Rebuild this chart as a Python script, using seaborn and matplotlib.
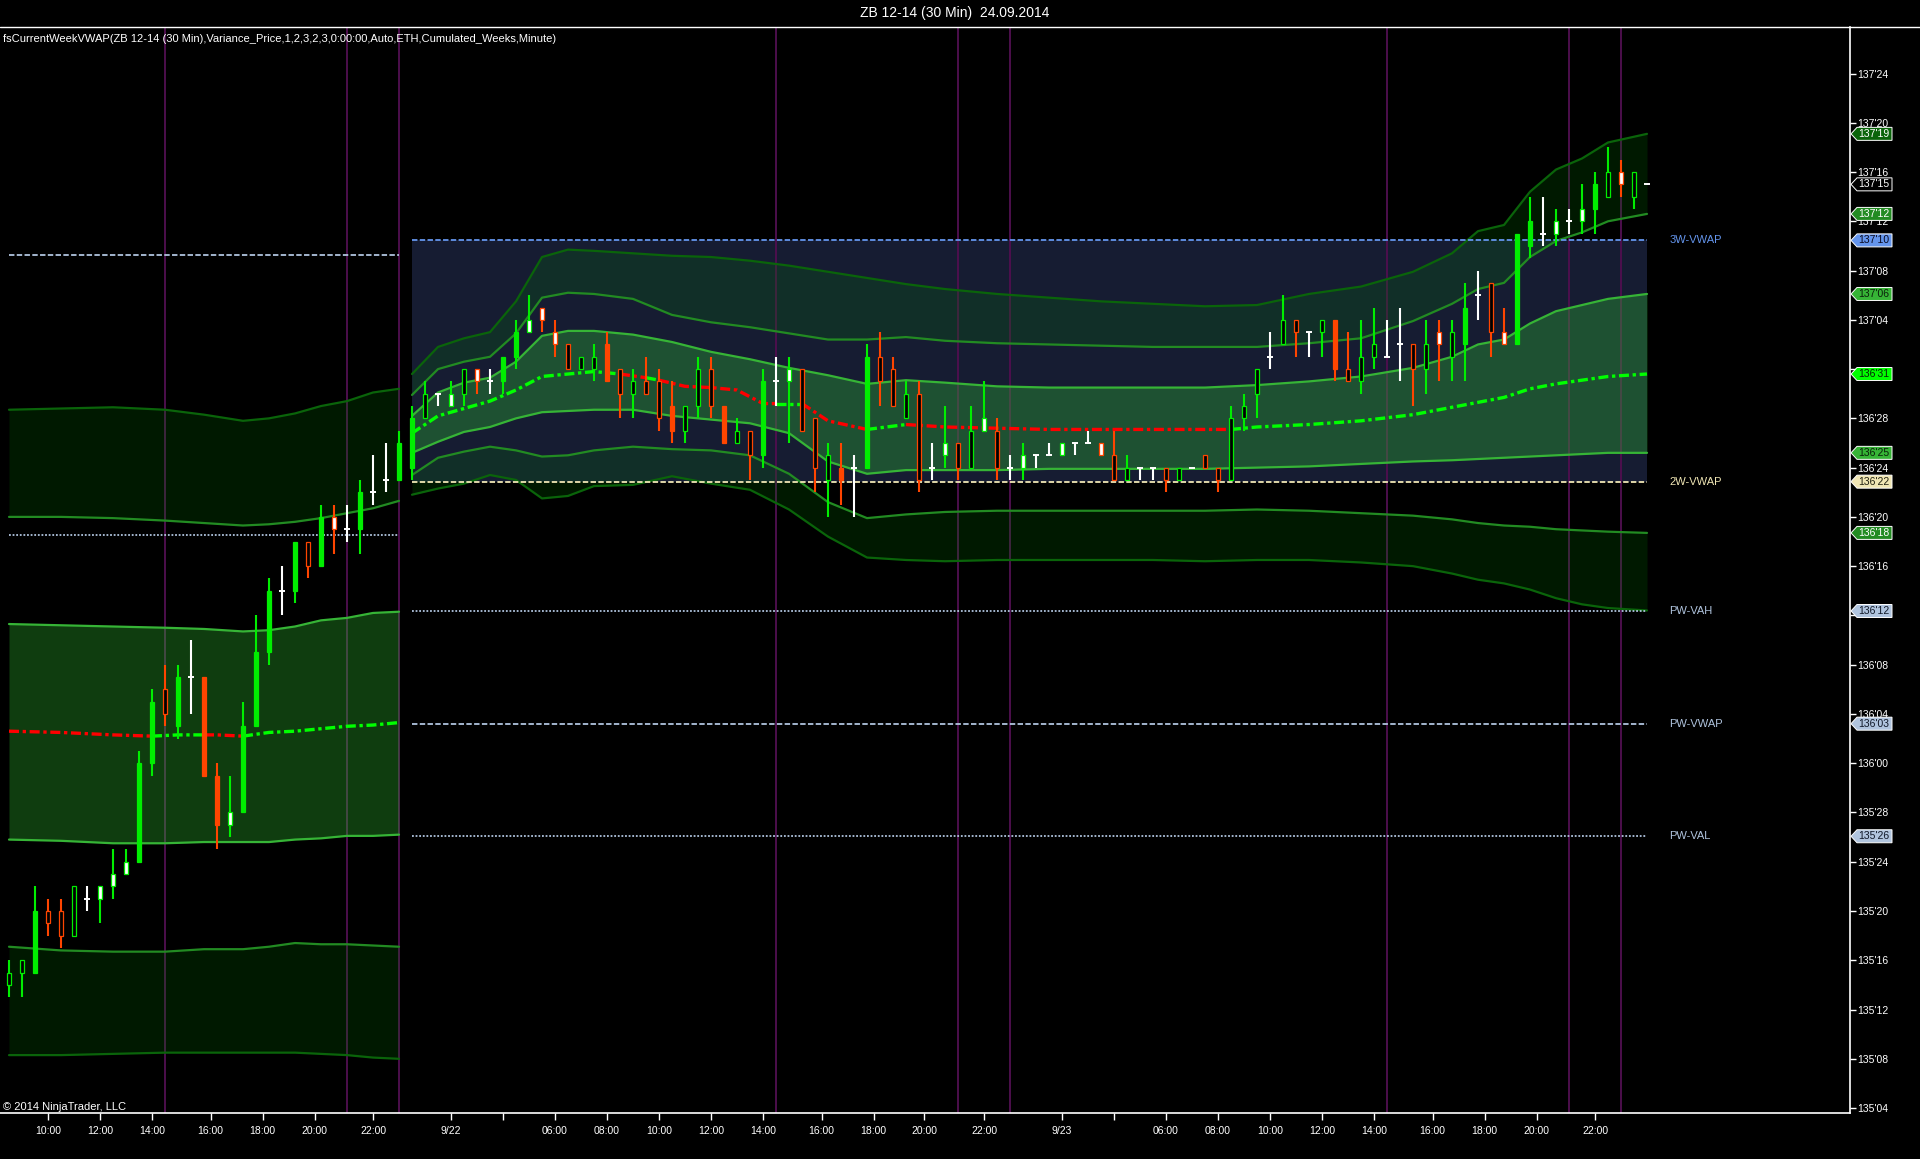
import numpy as np
import seaborn as sns
from matplotlib import pyplot as plt
from matplotlib.patches import Polygon
from matplotlib.lines import Line2D
from matplotlib.ticker import FuncFormatter
import matplotlib.transforms as mtransforms

TITLE = "ZB 12-14 (30 Min)  24.09.2014"
INDICATOR = "fsCurrentWeekVWAP(ZB 12-14 (30 Min),Variance_Price,1,2,3,2,3,0:00:00,Auto,ETH,Cumulated_Weeks,Minute)"
COPYRIGHT = "\u00a9 2014 NinjaTrader, LLC"

# all prices are in 32nds above 135'00, bars are 30 min
opens = [14, 15, 15, 20, 20, 18, 21, 21, 22, 23,
         24, 32, 38, 35, 39, 39, 31, 27, 28, 35,
         41, 46, 46, 50, 48, 52, 51, 51, 54, 55,
         55, 56, 60, 62, 61, 62, 64, 63, 63, 65,
         67, 69, 67, 66, 64, 64, 66, 64, 62, 63,
         63, 61, 59, 61, 64, 61, 58, 59, 57, 63,
         63, 64, 60, 55, 56, 56, 56, 65, 64, 60,
         62, 56, 57, 58, 56, 59, 59, 56, 56, 57,
         57, 57, 58, 58, 58, 57, 55, 56, 56, 56,
         55, 56, 57, 56, 55, 60, 62, 65, 66, 68,
         67, 67, 68, 64, 63, 65, 65, 66, 66, 64,
         67, 65, 66, 70, 71, 67, 66, 74, 75, 75,
         76, 76, 77, 78, 80, 78]
highs = [16, 16, 22, 21, 21, 22, 22, 22, 25, 25,
         33, 38, 40, 40, 42, 39, 32, 31, 37, 44,
         47, 48, 50, 50, 53, 53, 53, 55, 57, 58,
         59, 61, 63, 62, 63, 64, 64, 64, 65, 68,
         70, 69, 68, 66, 65, 66, 67, 64, 64, 65,
         64, 63, 61, 65, 65, 61, 60, 59, 64, 65,
         65, 64, 60, 58, 58, 57, 66, 67, 65, 63,
         63, 58, 61, 58, 61, 63, 60, 57, 58, 57,
         58, 58, 58, 59, 58, 59, 57, 56, 56, 56,
         56, 56, 57, 56, 61, 62, 64, 67, 70, 68,
         67, 68, 68, 67, 68, 69, 68, 69, 66, 68,
         68, 68, 71, 72, 71, 69, 75, 78, 78, 77,
         77, 79, 80, 82, 81, 80]
lows = [13, 13, 15, 18, 17, 18, 20, 19, 21, 23,
        24, 31, 35, 34, 36, 31, 25, 26, 28, 35,
        40, 44, 45, 47, 48, 49, 50, 49, 53, 54,
        55, 55, 60, 61, 61, 61, 62, 62, 62, 64,
        67, 67, 65, 64, 64, 63, 63, 60, 60, 62,
        59, 58, 58, 60, 60, 58, 58, 55, 56, 61,
        58, 59, 54, 52, 53, 52, 56, 61, 61, 60,
        54, 55, 56, 55, 56, 59, 55, 55, 55, 56,
        57, 57, 57, 58, 57, 55, 55, 55, 55, 54,
        55, 56, 56, 54, 55, 59, 60, 64, 66, 65,
        65, 65, 63, 63, 62, 64, 65, 63, 61, 62,
        63, 63, 63, 68, 65, 66, 66, 73, 74, 74,
        75, 75, 75, 78, 78, 77]
closes = [15, 16, 20, 19, 18, 22, 21, 22, 23, 24,
          32, 37, 36, 39, 39, 31, 27, 28, 35, 41,
          46, 46, 50, 48, 52, 51, 51, 54, 54, 55,
          58, 60, 62, 62, 62, 64, 63, 63, 65, 67,
          68, 68, 66, 64, 65, 65, 63, 62, 63, 62,
          60, 59, 61, 64, 61, 58, 59, 57, 63, 63,
          64, 59, 56, 57, 55, 56, 65, 63, 61, 62,
          55, 56, 58, 56, 59, 60, 56, 56, 57, 57,
          57, 58, 58, 58, 57, 55, 56, 56, 56, 55,
          56, 56, 56, 55, 60, 61, 64, 65, 68, 67,
          67, 68, 64, 63, 65, 66, 65, 66, 64, 66,
          66, 67, 69, 70, 67, 66, 75, 76, 75, 76,
          76, 77, 79, 80, 79, 80]
# G solid up, g hollow up, w white up, R solid down, r hollow down, o white down, x doji
bar_kind = ("ggGrrgxwww" "GGrGxRRwGG" "GxGrGoxGxx" "GGgxwgoxGG" "woorggRrgr"
            "rRggrRgrGx" "wrrgRxGrrg" "rxwrgwrxwx" "xwxxorgxxr" "gxrrgggxgr"
            "xgRrggxxrg" "ogGxroGGxw" "xwGgog")
last_price = 79

# previous week bands
prev_bars = [0, 4, 8, 12, 15, 18, 20, 22, 24, 26, 28, 30]
prev_up3 = [60.7, 60.8, 60.9, 60.7, 60.3, 59.8, 60.0, 60.4, 61.0, 61.4, 62.1, 62.4]
prev_up2 = [52.0, 52.0, 51.9, 51.7, 51.5, 51.3, 51.4, 51.6, 51.9, 52.3, 52.7, 53.3]
prev_up1 = [43.3, 43.2, 43.1, 43.0, 42.9, 42.7, 42.8, 43.1, 43.6, 43.8, 44.2, 44.3]
prev_dn1 = [25.8, 25.7, 25.5, 25.5, 25.6, 25.6, 25.6, 25.8, 25.9, 26.1, 26.1, 26.2]
prev_dn2 = [17.1, 16.8, 16.7, 16.7, 16.9, 16.9, 17.1, 17.4, 17.3, 17.3, 17.2, 17.1]
prev_dn3 = [8.3, 8.3, 8.4, 8.5, 8.5, 8.5, 8.5, 8.5, 8.4, 8.3, 8.1, 8.0]
prev_vwap_bars = [0, 4, 8, 11, 13, 15, 16, 18, 20, 22, 24, 26, 28, 30]
prev_vwap = [34.6, 34.5, 34.3, 34.2, 34.3, 34.3, 34.3, 34.2, 34.5, 34.6, 34.8, 35.0, 35.1, 35.3]
prev_vwap_runs = [(0, 11, "r"), (11, 15, "g"), (15, 18, "r"), (18, 30, "g")]

# current week bands
cur_bars = [31, 33, 35, 37, 39, 41, 43, 45, 48, 51, 54, 57, 60, 63, 66, 69, 72,
            76, 80, 84, 88, 92, 96, 100, 104, 108, 111, 113, 115, 117, 119, 121, 123, 126]
cur_up3 = [63.6, 65.8, 66.5, 67.0, 69.5, 73.1, 73.7, 73.6, 73.4, 73.2, 73.1, 72.8, 72.4, 71.9, 71.4, 70.9, 70.5,
           70.1, 69.8, 69.5, 69.3, 69.1, 69.2, 70.1, 70.7, 71.9, 73.4, 75.2, 75.7, 78.4, 80.2, 81.1, 82.4, 83.1]
cur_up2 = [61.9, 64.0, 64.6, 65.0, 66.9, 69.8, 70.2, 70.1, 69.7, 68.4, 67.8, 67.4, 66.9, 66.4, 66.4, 66.6, 66.3,
           66.1, 66.0, 65.9, 65.8, 65.8, 65.8, 66.1, 66.5, 67.9, 69.3, 70.5, 71.0, 73.1, 74.4, 75.1, 76.0, 76.6]
cur_up1 = [60.2, 62.1, 62.9, 63.3, 64.6, 66.7, 67.1, 67.1, 66.8, 66.2, 65.4, 64.8, 64.1, 63.5, 62.8, 63.1, 62.9,
           62.6, 62.5, 62.5, 62.5, 62.5, 62.7, 63.0, 63.4, 64.1, 65.0, 66.0, 66.4, 67.7, 68.7, 69.2, 69.7, 70.1]
cur_dn1 = [57.2, 58.1, 58.9, 59.3, 60.0, 60.5, 60.6, 60.7, 60.7, 60.2, 59.9, 59.6, 58.8, 56.5, 55.5, 55.8, 55.8,
           55.8, 55.9, 55.9, 55.9, 55.9, 56.0, 56.1, 56.3, 56.5, 56.6, 56.7, 56.8, 56.9, 57.0, 57.1, 57.2, 57.2]
cur_dn2 = [55.4, 56.8, 57.3, 57.7, 57.4, 56.9, 57.0, 57.4, 57.7, 57.5, 57.4, 57.0, 55.5, 53.2, 51.9, 52.2, 52.4,
           52.5, 52.5, 52.5, 52.5, 52.5, 52.6, 52.5, 52.3, 52.1, 51.8, 51.5, 51.3, 51.2, 51.0, 50.9, 50.8, 50.7]
cur_dn3 = [53.8, 54.3, 54.7, 55.4, 55.0, 53.5, 53.7, 54.5, 54.6, 55.3, 54.7, 54.2, 52.6, 50.4, 48.7, 48.5, 48.4,
           48.5, 48.5, 48.5, 48.5, 48.4, 48.5, 48.5, 48.3, 48.0, 47.4, 46.9, 46.6, 46.1, 45.4, 44.9, 44.6, 44.4]
cur_vwap_bars = [31, 33, 35, 37, 39, 41, 43, 45, 47, 49, 50, 52, 54, 56, 58, 59, 61, 63, 66, 69,
                 72, 76, 80, 84, 88, 92, 94, 96, 100, 104, 108, 111, 113, 115, 117, 119, 121, 123, 126]
cur_vwap = [58.8, 60.2, 60.8, 61.4, 62.3, 63.4, 63.6, 63.8, 63.6, 63.3, 63.1, 62.6, 62.5, 62.3, 61.2, 61.2,
            61.2, 59.8, 59.1, 59.5, 59.3, 59.2, 59.1, 59.1, 59.1, 59.1, 59.1, 59.3, 59.5, 59.8, 60.3, 60.9,
            61.3, 61.7, 62.4, 62.8, 63.1, 63.4, 63.6]
cur_vwap_runs = [(31, 47, "g"), (47, 49, "r"), (49, 50, "g"), (50, 59, "r"), (59, 61, "g"),
                 (61, 66, "r"), (66, 69, "g"), (69, 94, "r"), (94, 126, "g")]

# reference levels
level_names = ["3W-VWAP", "2W-VWAP", "PW-VAH", "PW-VWAP", "PW-VAL"]
level_values = [74.45, 54.86, 44.36, 35.21, 26.07]
prev_level_values = [73.28, 50.54]
session_lines = [12, 26, 30, 59, 73, 77, 106, 120, 124]

xtick_pos = [3, 7, 11, 15.5, 19.5, 23.5, 28, 34, 38, 42, 46, 50, 54, 58, 62.5, 66.5, 70.4,
             75, 81, 85, 89, 93, 97, 101, 105, 109.5, 113.5, 117.5, 122]
xtick_labels = ["10:00", "12:00", "14:00", "16:00", "18:00", "20:00", "22:00", "9/22", "",
                "06:00", "08:00", "10:00", "12:00", "14:00", "16:00", "18:00", "20:00",
                "22:00", "9/23", "", "06:00", "08:00", "10:00", "12:00", "14:00", "16:00",
                "18:00", "20:00", "22:00"]
# price ticks that sit under a price marker
hidden_ticks = [64, 44]

LIME = "#00ee00"
ORANGE = "#ff4500"
VWAP_COL = {"g": "#00ff00", "r": "#ff0000"}
LSB = "#b0c4de"
LEVEL_COL = ["#6495ed", "#f0e6b4", LSB, LSB, LSB]
LEVEL_LS = [(0, (3, 1.3)), (0, (3, 1.3)), (0, (1, 1)), (0, (3, 1.3)), (0, (1, 1))]


def fmt_price(v, pos=None):
    v = int(np.floor(v + 1e-6))
    return f"{135 + v // 32}'{v % 32:02d}"


def fmt_tick(v, pos=None):
    if int(round(v)) in hidden_ticks:
        return ""
    return fmt_price(v)


sns.set_theme(style="dark", rc={"axes.facecolor": "black", "figure.facecolor": "black"})
plt.rcParams['font.family'] = ['Liberation Sans', 'DejaVu Sans']

W, H = 1920, 1159
fig = plt.figure(figsize=(W / 100, H / 100), dpi=100)
ax = fig.add_axes([0, 1 - 1113 / H, 1850 / W, (1113 - 26.7) / H])
ax.set_facecolor("black")
ax.grid(False)
YMIN, YMAX = 3.6, 91.8
ax.set_xlim(-9 / 13, (1850 - 9) / 13)
ax.set_ylim(YMIN, YMAX)

# session markers
for k in session_lines:
    ax.axvline(k, color="#4d0f4d", lw=1.4, zorder=1.5)

# zone between 2W and 3W vwap
ax.fill_between([cur_bars[0], cur_bars[-1]], level_values[1], level_values[0],
                color="#161c32", lw=0, zorder=1)


def draw_bands(k, up3, up2, up1, dn1, dn2, dn3):
    ax.fill_between(k, up1, dn1, color="#32cd32", alpha=0.3, lw=0, zorder=2)
    ax.fill_between(k, up3, up2, color="#008000", alpha=0.2, lw=0, zorder=2)
    ax.fill_between(k, dn2, dn3, color="#008000", alpha=0.2, lw=0, zorder=2)
    for vals, col in [(up3, "#0a640a"), (up2, "#228b22"), (up1, "#36b436"),
                      (dn1, "#36b436"), (dn2, "#228b22"), (dn3, "#0a640a")]:
        sns.lineplot(x=k, y=vals, color=col, lw=1.6, ax=ax, zorder=3,
                     estimator=None, sort=False)


def draw_vwap(k, vals, runs):
    k = np.array(k)
    vals = np.array(vals)
    for a, b, c in runs:
        m = (k >= a) & (k <= b)
        ax.plot(k[m], vals[m], color=VWAP_COL[c], lw=2.4,
                ls=(0, (3, 1.1, 1, 1.1)), zorder=4, solid_capstyle="butt")


draw_bands(prev_bars, prev_up3, prev_up2, prev_up1, prev_dn1, prev_dn2, prev_dn3)
draw_bands(cur_bars, cur_up3, cur_up2, cur_up1, cur_dn1, cur_dn2, cur_dn3)
draw_vwap(prev_vwap_bars, prev_vwap, prev_vwap_runs)
draw_vwap(cur_vwap_bars, cur_vwap, cur_vwap_runs)

# level lines
ax.plot([prev_bars[0], prev_bars[-1]], [prev_level_values[0]] * 2, color=LSB, lw=1.3,
        ls=(0, (3, 1.3)), zorder=3.5)
ax.plot([prev_bars[0], prev_bars[-1]], [prev_level_values[1]] * 2, color=LSB, lw=1.3,
        ls=(0, (1, 1)), zorder=3.5)
for name, v, col, ls in zip(level_names, level_values, LEVEL_COL, LEVEL_LS):
    ax.plot([cur_bars[0], cur_bars[-1]], [v, v], color=col, lw=1.3, ls=ls, zorder=3.5)
    ax.text(127.7, v, name, color=col, fontsize=8, va="center", ha="left")

# candles
x = np.arange(len(opens))
o, h, l, c = (np.array(a, dtype=float) for a in (opens, highs, lows, closes))
edge_of = {"G": LIME, "g": LIME, "w": LIME, "R": ORANGE, "r": ORANGE, "o": ORANGE, "x": "white"}
face_of = {"G": LIME, "g": "black", "w": "white", "R": ORANGE, "r": "black", "o": "white"}
ax.vlines(x, l, h, colors=[edge_of[s] for s in bar_kind], lw=1.5, zorder=5)
body = np.array([s != "x" for s in bar_kind])
ax.bar(x[body], np.abs(c - o)[body], bottom=np.minimum(o, c)[body], width=0.38,
       color=[face_of[s] for s in bar_kind if s != "x"],
       edgecolor=[edge_of[s] for s in bar_kind if s != "x"], linewidth=0.9, zorder=6)
doji = ~body
ax.hlines(o[doji], x[doji] - 0.2, x[doji] + 0.2, colors="white", lw=1.4, zorder=6)
ax.hlines(last_price, 125.8, 126.2, colors="white", lw=1.4, zorder=6)

# axes styling
for s in ["left", "top"]:
    ax.spines[s].set_visible(False)
for s in ["bottom", "right"]:
    ax.spines[s].set_color("white")
    ax.spines[s].set_linewidth(1.2)
ax.yaxis.tick_right()
ax.set_yticks(np.arange(4, 89, 4))
ax.yaxis.set_major_formatter(FuncFormatter(fmt_tick))
ax.tick_params(axis="y", direction="out", length=4, width=1, colors="white",
               labelsize=7.5, pad=1.5, right=True, left=False, labelright=True, labelleft=False)
ax.set_xticks(xtick_pos)
ax.set_xticklabels(xtick_labels)
ax.tick_params(axis="x", direction="out", length=5, width=1, colors="white",
               labelsize=7.5, pad=4, bottom=True)
ax.set_xlabel("")
ax.set_ylabel("")

# price markers on the right axis
px_per_tick = H * ax.get_position().height / (YMAX - YMIN)
half = 6.5 / px_per_tick
blend = mtransforms.blended_transform_factory(fig.transFigure, ax.transData)
x_tip, x_neck, x_end = 1851 / W, 1857 / W, 1892 / W
markers = [
    (cur_up3[-1], "#0a640a", "white", "white"),
    (last_price, "black", "white", "white"),
    (cur_up2[-1], "#228b22", "white", "white"),
    (level_values[0], "#6495ed", "#0a0a20", "white"),
    (cur_up1[-1], "#36b436", "#0a200a", "white"),
    (cur_vwap[-1], "#00ff00", "#0a200a", "white"),
    (cur_dn1[-1], "#36b436", "#0a200a", "white"),
    (level_values[1], "#f0e6b4", "#202010", "white"),
    (cur_dn2[-1], "#228b22", "white", "white"),
    (level_values[2], LSB, "#101828", "white"),
    (level_values[3], LSB, "#101828", "white"),
    (level_values[4], LSB, "#101828", "white"),
]
for v, bg, fg, ec in markers:
    poly = Polygon([(x_tip, v), (x_neck, v + half), (x_end, v + half), (x_end, v - half),
                    (x_neck, v - half)], closed=True, transform=blend,
                   facecolor=bg, edgecolor=ec, lw=0.7, zorder=5)
    fig.add_artist(poly)
    fig.text(x_neck + 1.5 / W, v, fmt_price(v), transform=blend, color=fg,
             fontsize=7.5, va="center", ha="left", zorder=6)

# frame texts
fig.add_artist(Line2D([0, 1], [1 - 26.7 / H] * 2, transform=fig.transFigure, color="white", lw=1))
fig.text(955 / W, 1 - 13.5 / H, TITLE, color="white", fontsize=10, ha="center", va="center")
fig.text(3 / W, 1 - 39 / H, INDICATOR, color="white", fontsize=8, ha="left", va="center")
fig.text(3 / W, 1 - 1107 / H, COPYRIGHT, color="white", fontsize=8, ha="left", va="center")

fig.savefig("out.png", dpi=100, facecolor="black")
